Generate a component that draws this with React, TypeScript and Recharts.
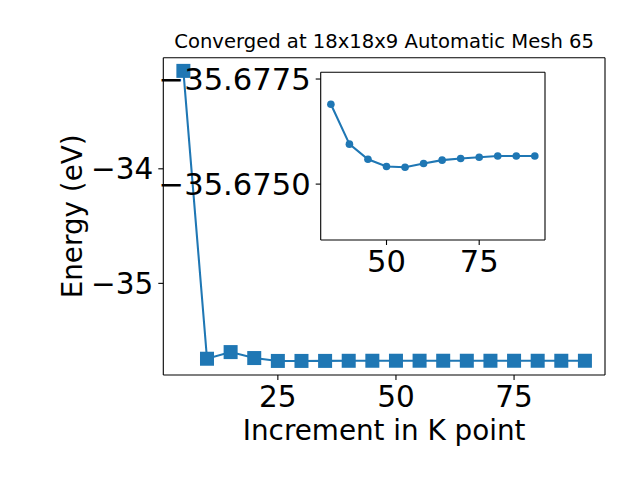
import React from "react";
import { LineChart, Line, XAxis, YAxis } from "recharts";

// --- Data ---
const kPoints = [5, 10, 15, 20, 25, 30, 35, 40, 45, 50, 55, 60, 65, 70, 75, 80, 85, 90];
const energies = [
  -33.145, -35.658, -35.6, -35.652, -35.6772, -35.6771, -35.6769, -35.67595, -35.67559,
  -35.67542, -35.6754, -35.67549, -35.67557, -35.67561, -35.67564, -35.67567, -35.67567,
  -35.67567,
];
const mainXTicks = [25, 50, 75];
const mainYTicks = [-35, -34];
const insetXTicks = [50, 75];
const insetYTicks = [-35.6775, -35.675];
const insetFrom = 35; // inset zooms in from this k point on

const BLUE = "#1f77b4";
const FONT = "DejaVu Sans";
const tickStyle = { fill: "#000", fontSize: 29.5, fontFamily: FONT };
const insetTickStyle = { fill: "#000", fontSize: 30.6, fontFamily: FONT };
const axisLine = { stroke: "#000", strokeWidth: 1.1 };

const data = kPoints.map((k, i) => ({ k, energy: energies[i] }));
const insetData = data.filter((d) => d.k >= insetFrom);

// matplotlib uses a real minus sign
const fmtMinus = (digits: number) => (v: number) =>
  (v < 0 ? "\u2212" : "") + Math.abs(v).toFixed(digits);

const squareDot = (props: any) => {
  const { cx, cy, index } = props;
  return <rect key={index} x={cx - 7} y={cy - 7} width={14} height={14} fill={BLUE} />;
};

export default function App() {
  return (
    <div style={{ position: "absolute", left: 0, top: 0, width: 640, height: 480 }}>
      <div style={{ position: "absolute", left: 0, top: 0 }}>
        <LineChart
          width={640}
          height={480}
          data={data}
          margin={{ top: 24.3, right: 34, bottom: -5, left: -19.3 }}
        >
          <XAxis
            dataKey="k"
            type="number"
            domain={[0.75, 94.25]}
            allowDataOverflow
            ticks={mainXTicks}
            tick={tickStyle}
            tickSize={5}
            tickMargin={6}
            tickLine={axisLine}
            axisLine={axisLine}
            height={110}
            label={{
              value: "Increment in K point",
              position: "center",
              fill: "#000",
              style: { fontSize: 27.8, fontFamily: FONT, fill: "#000" },
            }}
          />
          <XAxis
            xAxisId="top"
            orientation="top"
            dataKey="k"
            type="number"
            domain={[0.75, 94.25]}
            allowDataOverflow
            tick={false}
            tickLine={false}
            axisLine={axisLine}
            height={33.4}
            label={{
              value: "Converged at 18x18x9 Automatic Mesh 65",
              position: "center",
              fill: "#000",
              style: { fontSize: 19.6, fontFamily: FONT, fill: "#000" },
            }}
          />
          <YAxis
            type="number"
            domain={[-35.8, -33.03]}
            allowDataOverflow
            ticks={mainYTicks}
            tickFormatter={fmtMinus(0)}
            tick={tickStyle}
            tickSize={5}
            tickMargin={5}
            tickLine={axisLine}
            axisLine={axisLine}
            width={182.6}
            label={{
              value: "Energy (eV)",
              position: "center",
              angle: -90,
              fill: "#000",
              style: { fontSize: 27.8, fontFamily: FONT, fill: "#000" },
            }}
          />
          <YAxis
            yAxisId="right"
            orientation="right"
            type="number"
            domain={[-35.8, -33.03]}
            allowDataOverflow
            tick={false}
            tickLine={false}
            axisLine={axisLine}
            width={1}
          />
          <Line
            dataKey="energy"
            stroke={BLUE}
            strokeWidth={2.08}
            dot={squareDot}
            activeDot={false}
            isAnimationActive={false}
          />
        </LineChart>
      </div>

      {/* inset axes */}
      <div style={{ position: "absolute", left: 0, top: 0 }}>
        <LineChart
          width={640}
          height={480}
          data={insetData}
          margin={{ top: 71.3, right: 94, bottom: 210, left: 319.7 }}
        >
          <XAxis
            dataKey="k"
            type="number"
            domain={[32.25, 92.75]}
            allowDataOverflow
            ticks={insetXTicks}
            tick={insetTickStyle}
            tickSize={5}
            tickMargin={5}
            tickLine={axisLine}
            axisLine={axisLine}
            height={30}
          />
          <XAxis
            xAxisId="top"
            orientation="top"
            dataKey="k"
            type="number"
            domain={[32.25, 92.75]}
            allowDataOverflow
            tick={false}
            tickLine={false}
            axisLine={axisLine}
            height={1}
          />
          <YAxis
            type="number"
            reversed
            domain={[-35.67766, -35.67367]}
            allowDataOverflow
            ticks={insetYTicks}
            tickFormatter={fmtMinus(4)}
            tick={insetTickStyle}
            tickSize={5}
            tickMargin={5}
            tickLine={axisLine}
            axisLine={axisLine}
            width={1}
          />
          <YAxis
            yAxisId="right"
            orientation="right"
            type="number"
            reversed
            domain={[-35.67766, -35.67367]}
            allowDataOverflow
            tick={false}
            tickLine={false}
            axisLine={axisLine}
            width={1}
          />
          <Line
            dataKey="energy"
            stroke={BLUE}
            strokeWidth={2.08}
            dot={{ r: 3.8, fill: BLUE, stroke: BLUE, strokeWidth: 0 }}
            activeDot={false}
            isAnimationActive={false}
          />
        </LineChart>
      </div>
    </div>
  );
}
